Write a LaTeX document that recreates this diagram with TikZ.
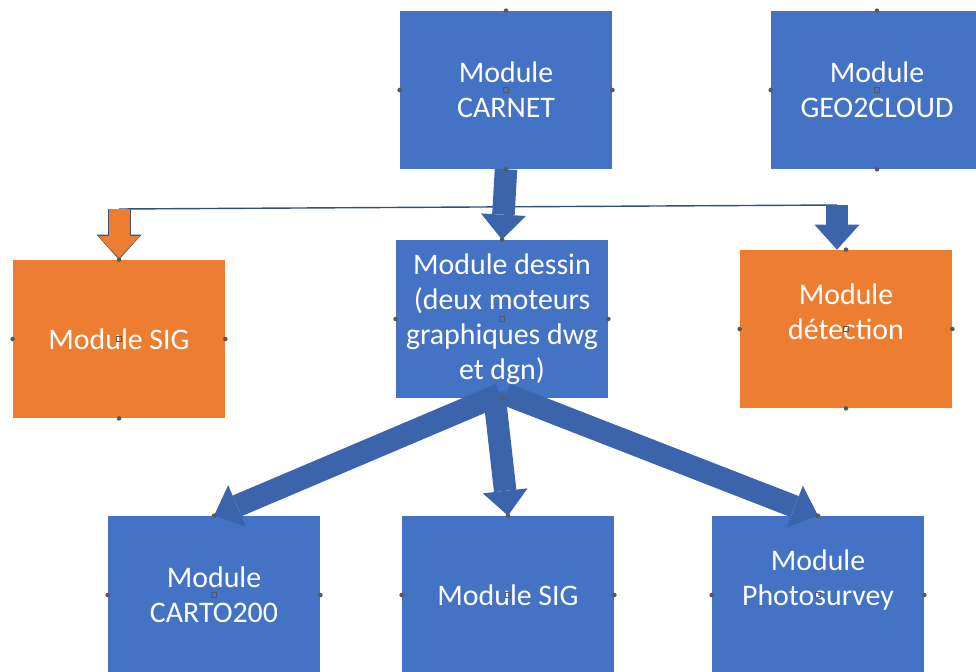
\documentclass[tikz,border=0pt]{standalone}
\usepackage{fontspec}
\setmainfont{Carlito}
\usetikzlibrary{arrows.meta, calc}

\definecolor{boxblue}{HTML}{4472C4}
\definecolor{boxorange}{HTML}{ED7D31}
\definecolor{arrowblue}{HTML}{3B64AD}
\definecolor{arrowedge}{HTML}{44546A}
\definecolor{linkline}{HTML}{2F4F7F}
\definecolor{handle}{HTML}{595959}

\begin{document}
\begin{tikzpicture}[
  x=0.02cm, y=-0.02cm,
  base/.style={
    rectangle, align=center,
    text=white,
    font=\fontsize{17}{20}\selectfont,
    minimum width=4.24cm,
    minimum height=3.16cm,
    inner sep=2pt
  },
  modblue/.style={base, fill=boxblue},
  modorange/.style={base, fill=boxorange},
  block/.style={
    draw=arrowblue, line width=0.45cm,
    -{Triangle[width=0.9cm, length=0.5cm, line width=0pt 0]}
  },
  blockedge/.style={
    draw=arrowedge, line width=0.46cm,
    -{Triangle[width=0.9cm, length=0.5cm, line width=0pt 0]}
  },
  blockorange/.style={
    draw=boxorange, line width=0.42cm, shorten >=0.03cm,
    -{Triangle[width=0.82cm, length=0.44cm, line width=0pt 0]}
  },
  link/.style={draw=linkline, line width=0.8pt}
]
\useasboundingbox (0,0) rectangle (976,672);
\clip (0,0) rectangle (976,672);

%% Top row
\node[modblue] (carnet) at (506,90) {Module\\CARNET};
\node[modblue] (geo)    at (877,90) {Module\\GEO2CLOUD};

%% Middle row
\node[modorange] (sigl)   at (119,339) {Module SIG};
\node[modblue]   (dessin) at (502,319) {Module dessin\\(deux moteurs\\graphiques dwg\\et dgn)};
\node[modorange] (detect) at (846,329) {Module\\détection\\\mbox{}};

%% Bottom row
\node[modblue] (carto) at (214,595) {Module\\CARTO200};
\node[modblue] (sigb)  at (508,595) {Module SIG};
\node[modblue] (photo) at (818,595) {Module\\Photosurvey\\\mbox{}};

%% Branch line
\coordinate (branchL) at (119,209);
\coordinate (branchR) at (837,205);
\draw[link] (branchL) -- (branchR);

%% --- Arrows ---
\draw[block] (carnet.south) -- (dessin.north);

\draw[blockedge]   (branchL) -- (sigl.north);
\draw[blockorange] (branchL) -- (sigl.north);
\draw[block] (branchR) -- (branchR |- detect.north);

\draw[block] ($(dessin.south)+(-2,-4)$) -- (carto.north);
\draw[block] ($(dessin.south)+(-8,-6)$) -- (sigb.north);
\draw[block] ($(dessin.south)+(4,-4)$)  -- (photo.north);

%% Handles
\foreach \n in {carnet,geo,sigl,dessin,detect,carto,sigb,photo} {
  \foreach \a in {north,south,east,west}
    \fill[handle] (\n.\a) circle (1.3pt);
  \draw[handle, line width=0.4pt] ([shift={(-2.5,-2.5)}]\n.center) rectangle ++(5,5);
}

\end{tikzpicture}
\end{document}
